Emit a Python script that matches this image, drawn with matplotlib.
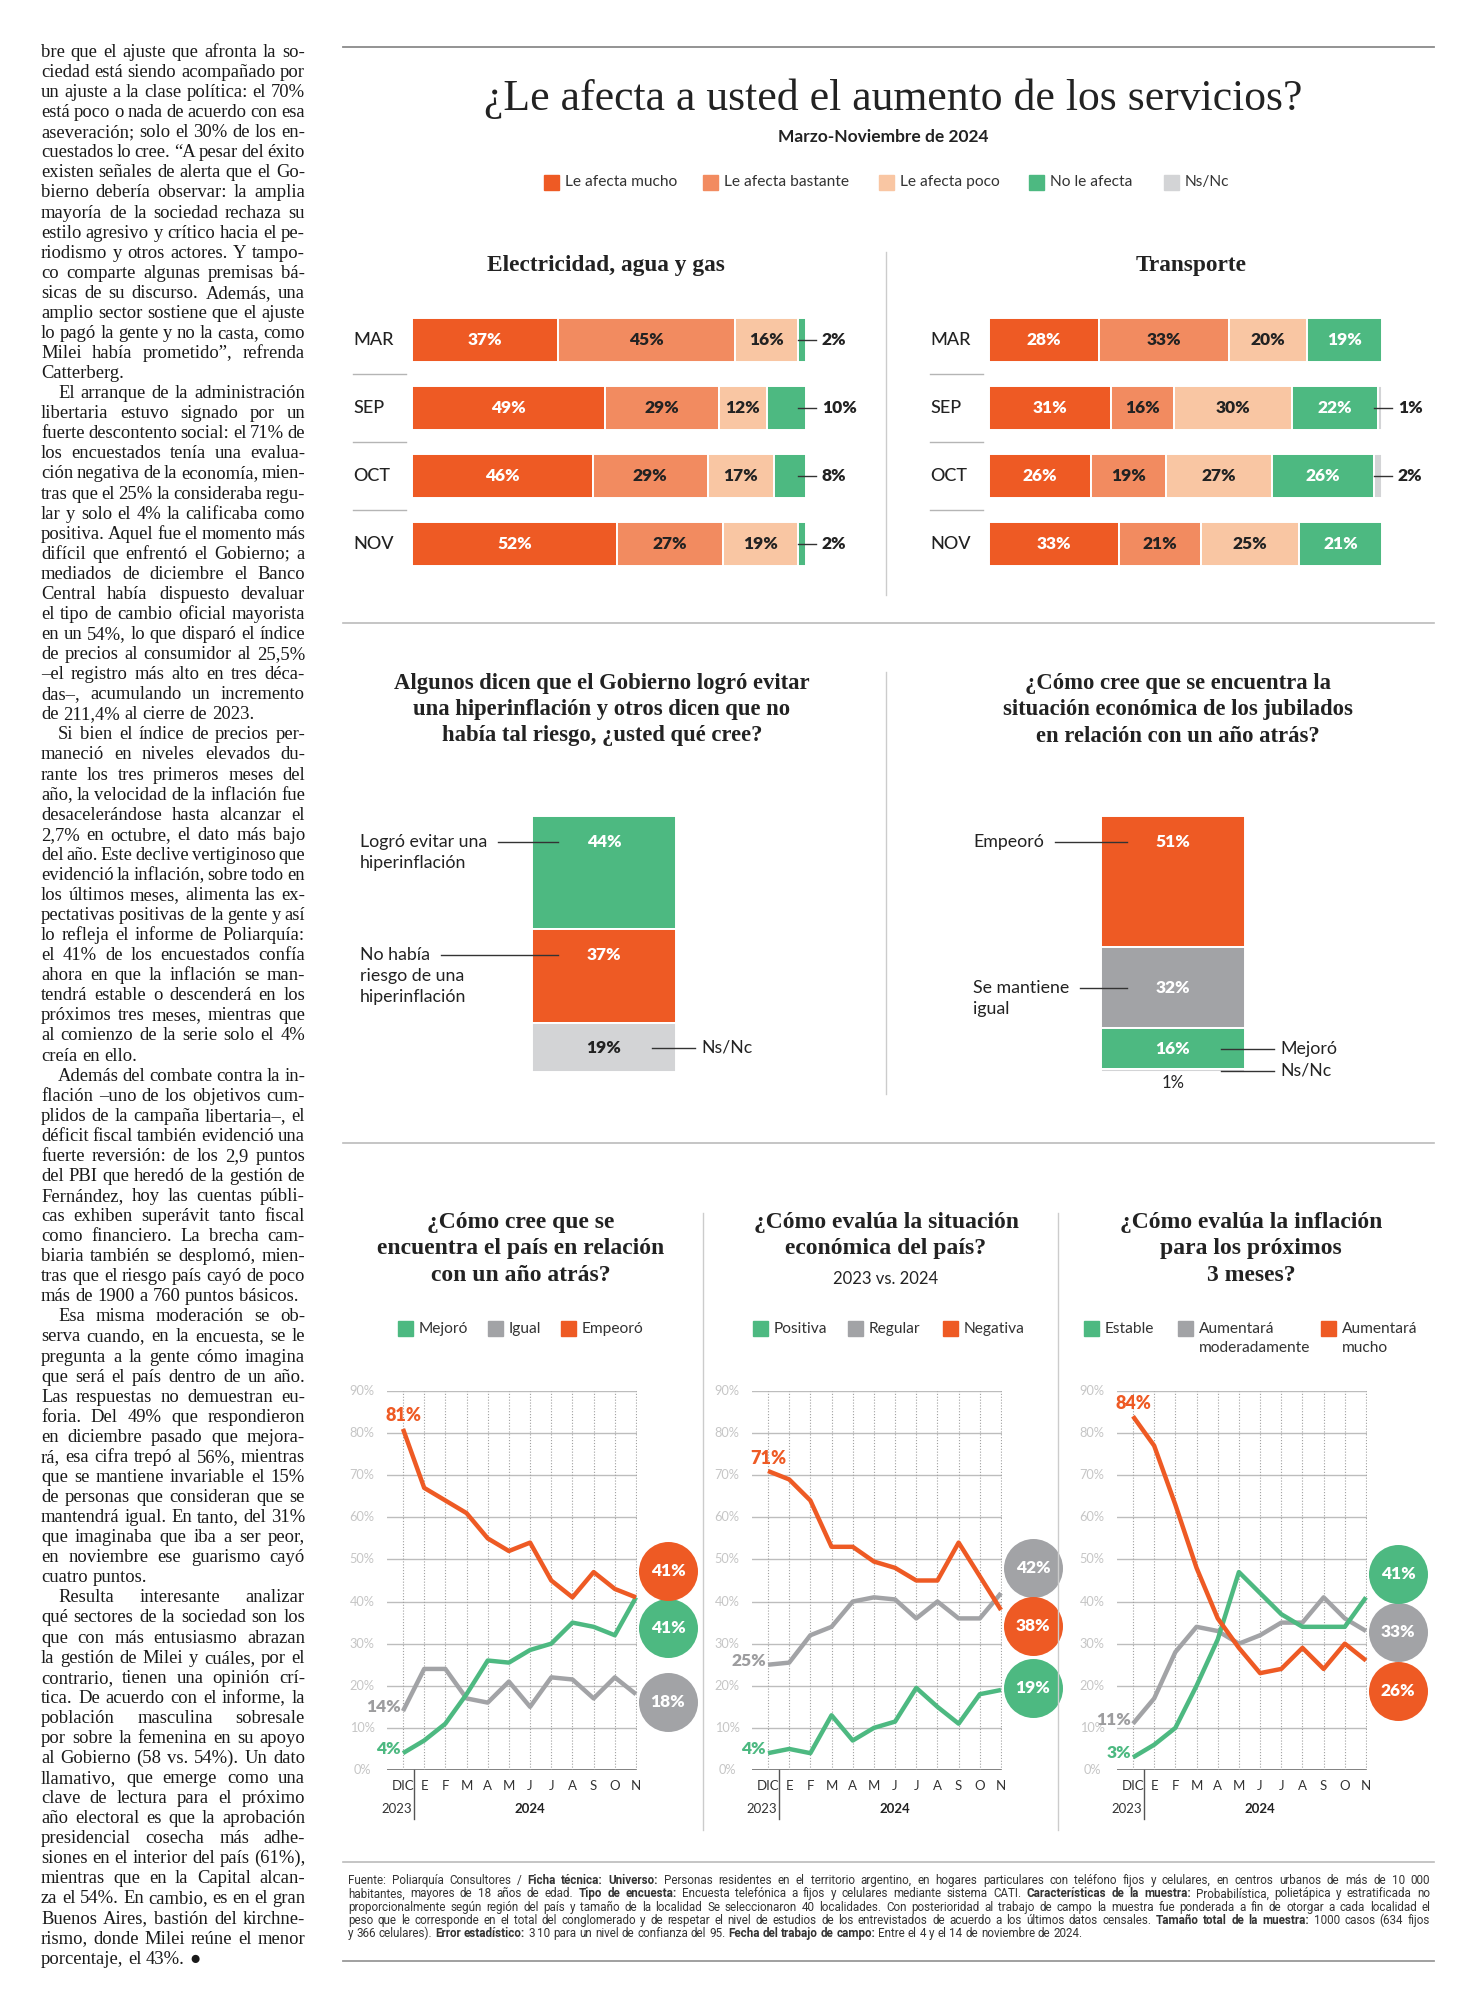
import numpy as np
import matplotlib
matplotlib.use("Agg")
import matplotlib.pyplot as plt
from matplotlib.font_manager import FontProperties
from matplotlib.lines import Line2D
from matplotlib.patches import Rectangle
from matplotlib.transforms import Affine2D

# ---------------- datos ----------------
meses_barras = ["MAR", "SEP", "OCT", "NOV"]
categorias = ["Le afecta mucho", "Le afecta bastante", "Le afecta poco", "No le afecta", "Ns/Nc"]

elec_mucho = [37, 49, 46, 52]
elec_bastante = [45, 29, 29, 27]
elec_poco = [16, 12, 17, 19]
elec_no = [2, 10, 8, 2]
elec_nsnc = [0, 0, 0, 0]

trans_mucho = [28, 31, 26, 33]
trans_bastante = [33, 16, 19, 21]
trans_poco = [20, 30, 27, 25]
trans_no = [19, 22, 26, 21]
trans_nsnc = [0, 1, 2, 0]

hiper_labels = ["Logró evitar una\nhiperinflación", "No había\nriesgo de una\nhiperinflación", "Ns/Nc"]
hiper_vals = [44, 37, 19]
jubil_labels = ["Empeoró", "Se mantiene\nigual", "Mejoró", "Ns/Nc"]
jubil_vals = [51, 32, 16, 1]

meses_linea = ["DIC", "E", "F", "M", "A", "M", "J", "J", "A", "S", "O", "N"]
pais_mejoro = [4, 7, 11, 18, 26, 25.5, 28.5, 30, 35, 34, 32, 41]
pais_igual = [14, 24, 24, 17, 16, 21, 15, 22, 21.5, 17, 22, 18]
pais_empeoro = [81, 67, 64, 61, 55, 52, 54, 45, 41, 47, 43, 41]

eco_positiva = [4, 5, 4, 13, 7, 10, 11.5, 19.5, 15, 11, 18, 19]
eco_regular = [25, 25.5, 32, 34, 40, 41, 40.5, 36, 40, 36, 36, 42]
eco_negativa = [71, 69, 64, 53, 53, 49.5, 48, 45, 45, 54, 46, 38]

infl_estable = [3, 6, 10, 20, 31, 47, 42, 37, 34, 34, 34, 41]
infl_moderada = [11, 17, 28, 34, 33, 30, 32, 35, 35, 41, 36, 33]
infl_mucho = [84, 77, 63, 48, 36, 29, 23, 24, 29, 24, 30, 26]

parrafos = [
    ["bre que el ajuste que afronta la so-",
     "ciedad está siendo acompañado por",
     "un ajuste a la clase política: el 70%",
     "está poco o nada de acuerdo con esa",
     "aseveración; solo el 30% de los en-",
     "cuestados lo cree. “A pesar del éxito",
     "existen señales de alerta que el Go-",
     "bierno debería observar: la amplia",
     "mayoría de la sociedad rechaza su",
     "estilo agresivo y crítico hacia el pe-",
     "riodismo y otros actores. Y tampo-",
     "co comparte algunas premisas bá-",
     "sicas de su discurso. Además, una",
     "amplio sector sostiene que el ajuste",
     "lo pagó la gente y no la casta, como",
     "Milei había prometido”, refrenda",
     "Catterberg."],
    ["El arranque de la administración",
     "libertaria estuvo signado por un",
     "fuerte descontento social: el 71% de",
     "los encuestados tenía una evalua-",
     "ción negativa de la economía, mien-",
     "tras que el 25% la consideraba regu-",
     "lar y solo el 4% la calificaba como",
     "positiva. Aquel fue el momento más",
     "difícil que enfrentó el Gobierno; a",
     "mediados de diciembre el Banco",
     "Central había dispuesto devaluar",
     "el tipo de cambio oficial mayorista",
     "en un 54%, lo que disparó el índice",
     "de precios al consumidor al 25,5%",
     "–el registro más alto en tres déca-",
     "das–, acumulando un incremento",
     "de 211,4% al cierre de 2023."],
    ["Si bien el índice de precios per-",
     "maneció en niveles elevados du-",
     "rante los tres primeros meses del",
     "año, la velocidad de la inflación fue",
     "desacelerándose hasta alcanzar el",
     "2,7% en octubre, el dato más bajo",
     "del año. Este declive vertiginoso que",
     "evidenció la inflación, sobre todo en",
     "los últimos meses, alimenta las ex-",
     "pectativas positivas de la gente y así",
     "lo refleja el informe de Poliarquía:",
     "el 41% de los encuestados confía",
     "ahora en que la inflación se man-",
     "tendrá estable o descenderá en los",
     "próximos tres meses, mientras que",
     "al comienzo de la serie solo el 4%",
     "creía en ello."],
    ["Además del combate contra la in-",
     "flación –uno de los objetivos cum-",
     "plidos de la campaña libertaria–, el",
     "déficit fiscal también evidenció una",
     "fuerte reversión: de los 2,9 puntos",
     "del PBI que heredó de la gestión de",
     "Fernández, hoy las cuentas públi-",
     "cas exhiben superávit tanto fiscal",
     "como financiero. La brecha cam-",
     "biaria también se desplomó, mien-",
     "tras que el riesgo país cayó de poco",
     "más de 1900 a 760 puntos básicos."],
    ["Esa misma moderación se ob-",
     "serva cuando, en la encuesta, se le",
     "pregunta a la gente cómo imagina",
     "que será el país dentro de un año.",
     "Las respuestas no demuestran eu-",
     "foria. Del 49% que respondieron",
     "en diciembre pasado que mejora-",
     "rá, esa cifra trepó al 56%, mientras",
     "que se mantiene invariable el 15%",
     "de personas que consideran que se",
     "mantendrá igual. En tanto, del 31%",
     "que imaginaba que iba a ser peor,",
     "en noviembre ese guarismo cayó",
     "cuatro puntos."],
    ["Resulta interesante analizar",
     "qué sectores de la sociedad son los",
     "que con más entusiasmo abrazan",
     "la gestión de Milei y cuáles, por el",
     "contrario, tienen una opinión crí-",
     "tica. De acuerdo con el informe, la",
     "población masculina sobresale",
     "por sobre la femenina en su apoyo",
     "al Gobierno (58 vs. 54%). Un dato",
     "llamativo, que emerge como una",
     "clave de lectura para el próximo",
     "año electoral es que la aprobación",
     "presidencial cosecha más adhe-",
     "siones en el interior del país (61%),",
     "mientras que en la Capital alcan-",
     "za el 54%. En cambio, es en el gran",
     "Buenos Aires, bastión del kirchne-",
     "rismo, donde Milei reúne el menor",
     "porcentaje, el 43%. ●"],
]

pie = [
    "Fuente: Poliarquía Consultores / **Ficha técnica: Universo:** Personas residentes en el territorio argentino, en hogares particulares con teléfono fijos y celulares, en centros urbanos de más de 10 000",
    "habitantes, mayores de 18 años de edad. **Tipo de encuesta:** Encuesta telefónica a fijos y celulares mediante sistema CATI. **Características de la muestra:** Probabilística, polietápica y estratificada no",
    "proporcionalmente según región del país y tamaño de la localidad Se seleccionaron 40 localidades. Con posterioridad al trabajo de campo la muestra fue ponderada a fin de otorgar a cada localidad el",
    "peso que le corresponde en el total del conglomerado y de respetar el nivel de estudios de los entrevistados de acuerdo a los últimos datos censales. **Tamaño total de la muestra:** 1000 casos (634 fijos",
    "y 366 celulares). **Error estadístico:** 3 10 para un nivel de confianza del 95. **Fecha del trabajo de campo:** Entre el 4 y el 14 de noviembre de 2024.",
]

# ---------------- estilo ----------------
W, H = 1472, 2004
SERIF = ["Liberation Serif", "DejaVu Serif"]
SANS = ["Lato", "DejaVu Sans"]
COND = ["Roboto", "DejaVu Sans"]

NARANJA = "#EE5A24"
BASTANTE = "#F28B60"
POCO = "#F9C6A3"
VERDE = "#4DB981"
NSNC = "#D3D4D6"
GRIS = "#A2A3A6"
OSCURO = "#222222"

colores_barras = [NARANJA, BASTANTE, POCO, VERDE, NSNC]
colores_txt = ["white", OSCURO, OSCURO, "white", OSCURO]

fig = plt.figure(figsize=(W / 100, H / 100), dpi=100)
fig.patch.set_facecolor("white")
renderer = fig.canvas.get_renderer()
PX = Affine2D().scale(1 / W, -1 / H).translate(0, 1) + fig.transFigure


def txt(x, y, s, **kw):
    return fig.text(x, y, s, transform=PX, **kw)


def linea(x0, y0, x1, y1, color="#bbbbbb", lw=1.0):
    fig.add_artist(Line2D([x0, x1], [y0, y1], transform=PX, color=color, lw=lw))


def cuadro(x, y, lado, color):
    fig.add_artist(Rectangle((x, y - lado / 2), lado, lado, transform=PX, color=color))


def ejes(x0, y0, x1, y1):
    ax = fig.add_axes([x0 / W, 1 - y1 / H, (x1 - x0) / W, (y1 - y0) / H])
    ax.axis("off")
    return ax


def ancho(s, fp):
    return renderer.get_text_width_height_descent(s, fp, ismath=False)[0]


def palabras_de(texto):
    res = []
    for k, trozo in enumerate(texto.split("**")):
        for p in trozo.split():
            res.append((p, k % 2 == 1))
    return res


def renglon(palabras, x0, x1, y, familia, tam, justificar, color, min_gap=2.5):
    def medir(t):
        fps = [FontProperties(family=familia, size=t, weight="bold" if b else "normal")
               for _, b in palabras]
        return fps, [ancho(p, fp) for (p, _), fp in zip(palabras, fps)]

    fps, anchos = medir(tam)
    n = len(palabras)
    disponible = x1 - x0
    if sum(anchos) + (n - 1) * min_gap > disponible:
        tam = tam * (disponible - (n - 1) * min_gap) / sum(anchos)
        fps, anchos = medir(tam)
    esp = ancho("n n", fps[0]) - ancho("nn", fps[0])
    gap = (disponible - sum(anchos)) / (n - 1) if (justificar and n > 1) else esp
    x = x0
    for (p, _), fp, w in zip(palabras, fps, anchos):
        txt(x, y, p, fontproperties=fp, color=color, va="baseline", ha="left")
        x += w + gap


# ---------------- columna de texto ----------------
y = 57
for ip, par in enumerate(parrafos):
    for il, l in enumerate(par):
        x0 = 41 + (17 if (ip > 0 and il == 0) else 0)
        renglon(palabras_de(l), x0, 305, y, SERIF, 13.4, il < len(par) - 1, "#1a1a1a",
                min_gap=3)
        y += 20.07

# ---------------- cabecera ----------------
linea(343, 47, 1434, 47, color="#8a8a8a", lw=1.3)
txt(893, 99, "¿Le afecta a usted el aumento de los servicios?", ha="center", va="center",
    family=SERIF, fontsize=31.5, color=OSCURO)
txt(883, 137, "Marzo-Noviembre de 2024", ha="center", va="center", family=SANS,
    fontsize=12.5, fontweight="bold", color=OSCURO)
for xc, cat, col in zip([544, 703, 879, 1029, 1164], categorias, colores_barras):
    cuadro(xc, 182, 15, col)
    txt(xc + 21, 182, cat, ha="left", va="center", family=SANS, fontsize=11.2, color="#333333")


# ---------------- barras horizontales ----------------
def barras_horizontales(x0, x1, columnas, titulo, tx):
    txt(tx, 265, titulo, ha="center", va="center", family=SERIF, fontsize=16.8,
        fontweight="bold", color=OSCURO)
    ax = ejes(x0, 306, x1, 578)
    ax.set_xlim(0, 100)
    ax.set_ylim(3.5, -0.5)
    k = 100 / (x1 - x0)
    filas = np.arange(len(meses_barras))
    izq = np.zeros(len(filas))
    for j, vals in enumerate(columnas):
        vals = np.array(vals, dtype=float)
        m = vals > 0
        ax.barh(filas[m], vals[m], left=izq[m], height=0.66, color=colores_barras[j],
                edgecolor="white", linewidth=1.4)
        for i, v in enumerate(vals):
            if v == 0:
                continue
            fin = izq[i] + v
            if v >= 12:
                ax.text(izq[i] + v / 2, i, f"{v:.0f}%", ha="center", va="center",
                        color=colores_txt[j], fontsize=12.5, fontweight="heavy", family=SANS)
            else:
                ax.plot([fin - 8 * k, fin + 10 * k], [i, i], color="#333333", lw=1,
                        clip_on=False, zorder=3)
                ax.text(fin + 16 * k, i, f"{v:.0f}%", ha="left", va="center",
                        color=OSCURO, fontsize=12.5, fontweight="heavy", family=SANS)
        izq += vals
    for i, mes in enumerate(meses_barras):
        ax.text(-59 * k, i, mes, ha="left", va="center", fontsize=13, family=SANS,
                fontweight="medium", color=OSCURO)
        if i < len(meses_barras) - 1:
            ax.plot([-59 * k, -6 * k], [i + 0.5, i + 0.5], color="#b5b5b5", lw=1,
                    clip_on=False)


barras_horizontales(412, 806, [elec_mucho, elec_bastante, elec_poco, elec_no, elec_nsnc],
                    "Electricidad, agua y gas", 606)
barras_horizontales(989, 1382, [trans_mucho, trans_bastante, trans_poco, trans_no, trans_nsnc],
                    "Transporte", 1191)
linea(886, 252, 886, 595, color="#cccccc")
linea(343, 623, 1434, 623, color="#bbbbbb", lw=1.2)


# ---------------- barras verticales ----------------
def barra_vertical(x0, x1, vals, etiquetas, colores, ctxt, anclas, lados, texto_x, der,
                   titulo, tx):
    for l, yy in zip(titulo, [683, 709, 736]):
        txt(tx, yy, l, ha="center", va="center", family=SERIF, fontsize=16.3,
            fontweight="bold", color=OSCURO)
    y0, y1 = 816, 1072
    ax = ejes(x0, y0, x1, y1)
    ax.set_xlim(0, 1)
    ax.set_ylim(100, 0)
    esc = (y1 - y0) / 100
    base = 0
    cx = (x0 + x1) / 2
    fp = FontProperties(family=SANS, size=12.8)
    for v, et, col, ct, an, lado in zip(vals, etiquetas, colores, ctxt, anclas, lados):
        ax.bar(0.5, v, bottom=base, width=1, color=col, edgecolor="white", linewidth=1.4)
        top = y0 + base * esc
        yl = top + 26 if an == "top" else top + v * esc / 2
        if an == "below":
            txt(cx, y1 + 11, f"{v}%", ha="center", va="center", family=SANS, fontsize=12,
                color=OSCURO)
        else:
            txt(cx, yl, f"{v}%", ha="center", va="center", family=SANS, fontsize=12.5,
                fontweight="heavy", color=ct)
        renglones = et.split("\n")
        if lado == "izq":
            for r, tline in enumerate(renglones):
                txt(texto_x, yl + r * 21, tline, ha="left", va="center", fontproperties=fp,
                    color=OSCURO)
            linea(texto_x + ancho(renglones[0], fp) + 11, yl, x0 + 26, yl, color="#333333")
        else:
            linea(x1 - 24, yl, x1 + der - 6, yl, color="#333333")
            txt(x1 + der, yl, et, ha="left", va="center", fontproperties=fp, color=OSCURO)
        base += v


barra_vertical(532, 676, hiper_vals, hiper_labels, [VERDE, NARANJA, NSNC],
               ["white", "white", OSCURO], ["top", "top", "center"], ["izq", "izq", "der"],
               360, 25,
               ["Algunos dicen que el Gobierno logró evitar",
                "una hiperinflación y otros dicen que no",
                "había tal riesgo, ¿usted qué cree?"], 602)
barra_vertical(1101, 1245, jubil_vals, jubil_labels, [NARANJA, GRIS, VERDE, NSNC],
               ["white", "white", "white", OSCURO], ["top", "center", "center", "below"],
               ["izq", "izq", "der", "der"], 973, 35,
               ["¿Cómo cree que se encuentra la",
                "situación económica de los jubilados",
                "en relación con un año atrás?"], 1178)
linea(886, 672, 886, 1094, color="#cccccc")
linea(343, 1143, 1434, 1143, color="#bbbbbb", lw=1.2)


# ---------------- líneas ----------------
def panel(dic, series, colores, nombres, leyenda_x, modos, circulos, titulo, subtitulo=None):
    ys = [1223, 1249, 1276]
    cx = dic + 118
    for l, yy in zip(titulo, ys):
        txt(cx, yy, l, ha="center", va="center", family=SERIF, fontsize=17,
            fontweight="bold", color=OSCURO)
    if subtitulo:
        txt(cx, 1279, subtitulo, ha="center", va="center", family=SANS, fontsize=12,
            color=OSCURO)
    for nom, lx, col in zip(nombres, leyenda_x, colores):
        cuadro(lx, 1329, 15, col)
        for r, tline in enumerate(nom.split("\n")):
            txt(lx + 21, 1329 + r * 19, tline, ha="left", va="center", family=SANS,
                fontsize=11.2, color="#333333")

    paso = 233 / 11
    ax = ejes(dic - 16, 1391, dic + 234, 1770)
    ax.set_xlim(-16 / paso, 11 + 1 / paso)
    ax.set_ylim(0, 90)
    ky = 90 / 379
    x = np.arange(len(meses_linea))
    for v in range(10, 100, 10):
        ax.axhline(v, color="#bdbdbd", lw=1, zorder=1)
    ax.axhline(0, color="#777777", lw=1.3, zorder=1)
    ax.vlines(x, 0, 90, colors="#a0a0a0", linestyles=(0, (1, 1.6)), lw=0.8, zorder=1)
    for v in range(0, 100, 10):
        ax.text(-41 / paso, v, f"{v}%", ha="center", va="center", color="#c6c6c6",
                fontsize=9.2, family=SANS)
    for i, m in enumerate(meses_linea):
        ax.text(i, -16 * ky, m, ha="center", va="center", color="#333333", fontsize=9.5,
                family=SANS)
    ax.text(-0.3, -39 * ky, "2023", ha="center", va="center", color="#333333",
            fontsize=9.5, family=SANS)
    ax.text(6, -39 * ky, "2024", ha="center", va="center", color=OSCURO, fontsize=9.5,
            fontweight="bold", family=SANS)
    ax.plot([0.5, 0.5], [0, -49 * ky], color="#555555", lw=1, clip_on=False)

    for vals, col, modo, cy in zip(series, colores, modos, circulos):
        ax.plot(x, vals, color=col, lw=3.2, clip_on=False, zorder=3,
                solid_joinstyle="round", solid_capstyle="butt")
        ctex = "#9d9d9f" if col == GRIS else col
        if modo == "arriba":
            ax.annotate(f"{vals[0]:.0f}%", xy=(0, vals[0]), xytext=(0, 13),
                        textcoords="offset pixels", ha="center", va="center", color=ctex,
                        fontsize=13, fontweight="heavy", family=SANS, annotation_clip=False)
        else:
            ax.annotate(f"{vals[0]:.0f}%", xy=(0, vals[0]), xytext=(-2, 4),
                        textcoords="offset pixels", ha="right", va="center", color=ctex,
                        fontsize=12.5, fontweight="heavy", family=SANS, annotation_clip=False)
        xc = 11 + 32 / paso
        ax.scatter([xc], [cy], s=(59 * 0.72) ** 2, color=col, clip_on=False, zorder=5,
                   linewidths=0)
        ax.text(xc, cy, f"{vals[-1]:.0f}%", ha="center", va="center", color="white",
                fontsize=12.5, fontweight="heavy", family=SANS, zorder=6)


panel(403, [pais_igual, pais_mejoro, pais_empeoro], [GRIS, VERDE, NARANJA],
      ["Igual", "Mejoró", "Empeoró"], [488, 398, 561], ["izq", "izq", "arriba"],
      [16.2, 33.7, 47.3],
      ["¿Cómo cree que se", "encuentra el país en relación", "con un año atrás?"])
panel(768, [eco_regular, eco_positiva, eco_negativa], [GRIS, VERDE, NARANJA],
      ["Regular", "Positiva", "Negativa"], [848, 753, 943], ["izq", "izq", "arriba"],
      [48, 19.5, 34.2],
      ["¿Cómo evalúa la situación", "económica del país?"], subtitulo="2023 vs. 2024")
panel(1133, [infl_moderada, infl_estable, infl_mucho], [GRIS, VERDE, NARANJA],
      ["Aumentará\nmoderadamente", "Estable", "Aumentará\nmucho"], [1178, 1084, 1321],
      ["izq", "izq", "arriba"], [32.8, 46.6, 18.8],
      ["¿Cómo evalúa la inflación", "para los próximos", "3 meses?"])
linea(703, 1213, 703, 1830, color="#cccccc")
linea(1058, 1213, 1058, 1830, color="#cccccc")

# ---------------- pie ----------------
linea(343, 1862, 1434, 1862, color="#bbbbbb", lw=1.2)
for i, l in enumerate(pie):
    renglon(palabras_de(l), 348, 1430, 1884 + i * 13.3, COND, 8.4, i < len(pie) - 1,
            "#333333", min_gap=2.2)
linea(343, 1961, 1434, 1961, color="#999999", lw=1.3)

fig.savefig("out.png", dpi=100, facecolor="white")
